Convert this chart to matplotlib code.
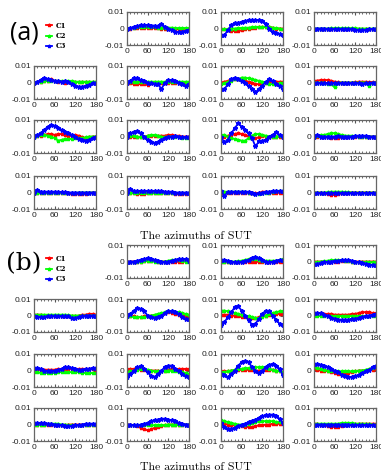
import matplotlib
matplotlib.use('Agg')
import matplotlib.pyplot as plt
from matplotlib.lines import Line2D
import numpy as np

# azimuths of SUT (deg)
azimuth = list(range(0, 181, 10))

# values in units of 1e-3, one row per subplot (row-major, top-left cell is the legend)
a_c1 = [
    [0,0,0.3,0.5,0.5,0.5,0.5,0.5,0.3,0.3,0,0,0,-0.3,-0.5,-0.5,-0.3,0,0],
    [0,-0.5,-1,-1.5,-1.5,-1.5,-1,-0.5,0,0.5,0.5,1,1,1,1,0.5,0,0,0],
    [0,0,0,0,0,0,0,0,0,0,0,0,0,0,0,0,0,0,0],
    [0,0.5,0.5,1,1,2,1,0.5,0.5,0,0.5,0.5,0.3,0.3,0.3,0.3,0.3,0.3,0.3],
    [0,-0.5,-1,-1,-1,-1,-1.5,-0.5,-0.3,0,0,0,0,0,0,0,0,0,0],
    [0,0.5,1,1.5,2,2,1.5,1,0.5,0,-1,-1,-0.5,0,0.5,0.5,0.5,0.5,0.5],
    [1,1.2,1.5,1.5,1.5,1,0.5,0.3,0,0,0,0,0.3,0.5,0.5,0.5,0.3,0.3,0.3],
    [0,0.3,0.5,1,1.5,1.5,1,1.5,1.5,1,0.5,0.5,1,0.5,-0.5,-1,-0.5,0,0],
    [0,0,-0.5,-0.5,-0.5,0,0.5,0.5,0.5,0.5,0.5,0.5,1,1,0.5,0.5,0,0,0],
    [0,0,0.5,1,1.5,2,1.5,1,0,-0.5,-1,-0.5,0.5,0,-0.5,-0.5,-0.5,0,0],
    [0,0,0,-0.5,-0.5,-1,-1,-1,-0.5,0,0,0,0,0,0,0,0,0,0],
    [0,0,0,0,0,0,0,0,0,0,-0.5,-1,-1,-1,-1,-1,-0.5,0,0],
    [0,-0.5,-0.5,-1,-1,-1,-0.5,-0.5,-0.5,-0.5,-0.5,-0.5,-0.5,-0.5,-1,-1,-1,-1,-0.5],
    [0,-0.5,-0.5,0,0,0,0,0,0,0,-0.5,-0.5,0.5,0.5,0,0,0,0,0],
    [0,0,0,-0.5,-1,-1.5,-1.5,-1,-0.5,0,0,0,0,0,0,0,0,0,0],
]
a_c2 = [
    [0,0.3,0.5,0.8,1,1,1,0.8,0.8,0.5,0.5,0.5,0.5,0.5,0.3,0.3,0.3,0.3,0.3],
    [-0.5,-0.5,-0.3,0,0,0.3,0.3,0.5,0.5,0.8,1,1,1,1,1,0.5,0.3,0,-0.5],
    [0,0,0,0,0,0.2,0.3,0.3,0.3,0.3,0.3,0.3,0.2,0,0,0,0,0,0],
    [0,0.3,0.5,1,1,1,1,1,1,1,1,1,0.5,0.5,0.5,0.5,0.5,0.5,0.5],
    [0,0.3,0.5,0.5,0.5,0.5,0.5,0.5,0.5,0.5,0.5,0.5,0.5,0.5,0.5,0.5,0.5,0.5,0.5],
    [-1,-0.5,0.5,1,2,2,3,3,2.5,2,1.5,1,0.5,0,-1,-1,-1,-0.5,0],
    [0,0,0,0,-1,-1,-3,0,0,0,0,0,0,0,0,0,-2,0,0],
    [0,0.5,1,1,0.5,0,-1,-2.5,-2,-1.5,-1.5,-1.5,-1,-1,-1,-0.5,0,0,0],
    [0,0.5,0.5,0,-0.5,-0.5,0.5,1,1,0.5,0,-0.5,0,0,0,-0.5,-1,-1,-1],
    [1,1,0,-1,-1.5,-2,-2.5,-2.5,-1,0.5,1.5,1.5,1,0.5,0,0,0,0.5,0],
    [0,0.5,1,1,1.5,2,2,1.5,1,0.5,0.5,0.5,0.3,0,0,0,0,0,0],
    [0,-0.3,-0.5,-0.3,-0.3,-0.3,-0.3,-0.3,-0.3,-0.3,-0.3,-0.3,-0.3,0,0,0,0,0,0],
    [-0.5,-0.5,-0.5,-0.5,-0.5,-0.5,-0.5,-0.5,-0.5,-0.5,-0.5,-0.5,-0.5,-0.5,-0.5,-0.5,-0.5,-0.5,-0.5],
    [0.5,0.5,0.5,0.5,0.5,0.5,0.5,0.5,0,-0.5,-1,-1,-0.5,-0.5,0,0.5,1,1,1],
    [0,0,0,0,0.3,0.5,0.5,0.5,0.5,0.3,0.3,0,0,0,0,0,0,0,0],
]
a_c3 = [
    [0,0.3,0.8,1.5,2,2,2,1.8,1.8,1.5,3,1,0,-1,-2,-2,-2,-1.5,-1],
    [-4,-4,-1,2,3.5,3.5,4,4.5,5,5,5,5,4.5,3,0,-2,-3,-3.5,-4],
    [0,0,0,0,-0.2,-0.3,-0.3,-0.3,-0.4,-0.5,-0.5,-0.6,-0.8,-1,-1,-0.8,-0.5,-0.3,0],
    [0,0.5,1.5,2.5,2,1.5,1,1,0.5,1,0.5,-1,-2,-2.5,-2.5,-2,-1.5,-0.5,0],
    [0,1,3,2.5,1.5,1,0,-0.5,-1,-1,-4,0,1.5,1.5,1,0,-1,-2,-1],
    [-4,-4,-1,2,3,2,1,0,-2,-4,-6,-4,-2,0.5,2,1,-1,-2,-4],
    [0,-0.3,-0.5,-0.5,-0.5,-0.5,-0.5,-0.5,-0.5,-0.5,-0.5,-0.5,-0.5,-0.5,-1,-0.5,-0.3,0,0],
    [0,1,2,4,6,7,6.5,5,4,3,2,1,0,-1.5,-2,-2.5,-2,-1,0],
    [0,2,2.5,3.5,2,0,-2,-3.5,-4,-3.5,-2,-1,0,0,0.5,0,-0.5,-0.5,0],
    [-0.5,-3.5,-2,2,5,8,6,4,2,-1,-6,-3,-2.5,-2,0,1,2.5,1,0],
    [0,1,0,0,0,0,0,0.5,0,0,0,0,0.5,0.5,0.5,0.5,0,0,0],
    [0,1.5,0.5,0.5,0.5,0.5,0.5,0.5,0.3,0.3,0,0,0,0,0,0,0,0,0],
    [0,2,1,1,1,1,1,1,1,1,1,0.5,0.5,0.5,0,0,0,0,0],
    [1,-2,0.5,0.5,0.5,0.5,0.5,0.5,0.5,0,-1,-0.5,0,0.5,0.5,1,1,1,1],
    [0,0,0,0,0,0,0,0,0,0,0,0,0,0,0,0,0,0,0],
]

b_c1 = [
    [0,0,0,0,0,0.5,0.5,0.5,0.3,0,0,0,0,0,0,0,0,0.5,0.5],
    [-0.5,-0.5,-0.5,-0.5,-0.5,-0.5,-0.5,0,0,0,0,0,0,-0.3,-0.3,-0.5,-0.5,-0.5,-0.5],
    [0,0,0,0,0,0,0,0,0.3,0.5,0.3,0,0,0,0,0,0,0,0],
    [0.5,0.5,0.5,0,0,0,0,0,0,0,-0.5,-0.5,-0.5,0,0.5,0.5,1,1,0.5],
    [0,-0.5,-0.5,-1,-1,-0.5,-0.5,0,0,0.5,1,1.5,2,1.5,1,0.5,0.5,0,0],
    [0.5,0.5,0.5,0,0,-0.5,-1,-1,-1.5,-1.5,-1.5,-1,-0.5,0,0.5,0.5,1,1,1],
    [1.5,1.5,1.5,1,1,1,0.5,0.5,0.5,0.5,0.5,1,1,1.5,2,2,2,1.5,1.5],
    [0.5,0.5,0.5,0.5,0.5,0.5,0.5,1,1,1,1,1,1,1,1,1,1,1,0.5],
    [1,1,1,1,0.5,0.5,0,0,0,0,-0.5,0,0.5,1,1,1,1,1,1],
    [-0.5,-0.5,-0.5,0,0,0.5,0.5,0.5,0.5,0.5,0,0,0,0.5,0.5,0.5,0,-0.5,-1],
    [1,0.5,0,0,-0.5,-1,-1.5,-2,-2,-2,-1.5,-1,-0.5,0,0,0,0.5,0.5,1],
    [0,0,0,-0.5,-0.5,-0.5,-0.5,-0.5,-0.5,-0.5,0,0,0,0,0,0,0,0,0],
    [0,0,-0.5,-1,-2,-3,-3.5,-3,-2,-1.5,-1,-0.5,0,0,0,0,0,0,0],
    [1,0.5,0,-0.5,-0.5,-1,-1,-1.5,-1.5,-1.5,-1,-0.5,-0.5,0,0,0.5,0.5,0.5,0.5],
    [0.5,0.5,0,-0.5,-1,-1.5,-1.5,-1.5,-1,-0.5,0,0,0.3,0.5,0.5,0.5,0.5,0.5,0.5],
]
b_c2 = [
    [-0.5,-0.5,-0.5,-0.3,0,0.5,0.5,0.5,0,0,0,0,0.5,1,1,1,0.5,0,0],
    [0,0,0,0,0,0.3,0.5,1,1.5,1.5,1.5,1,0.5,0.5,0.5,0.5,0.5,1,1.5],
    [-0.5,-0.3,0,0.3,0.5,0.8,1,1,0.8,0.5,0.3,0,-0.3,-0.5,-0.5,-0.5,-0.5,-0.5,-0.5],
    [0.5,0.5,0.5,0.5,0.5,0.5,0.5,0.5,0.5,0.5,0.3,0,0,0,0,0,0,0,0],
    [0,-0.5,-1,-1,-1,-1,-0.5,0,0.5,1,1.5,2,2.5,2.5,2,2,1.5,1,0.5],
    [3,3,2.5,2,1.5,1,0.5,0,-0.5,-1,-1.5,-1.5,-1,0,1,1.5,2,2.5,2.5],
    [-0.3,-0.3,-0.3,-0.3,-0.3,-0.3,-0.3,-0.3,-0.3,-0.3,-0.3,-0.3,-0.3,-0.3,-0.3,-0.5,-0.5,-0.5,-0.5],
    [-1,-1,-1.5,-1.5,-1.5,-1.5,-1.5,-1,-1,-1,-1,-1,-1,-1,-1.5,-1.5,-1.5,-1.5,-1.5],
    [-1,-0.5,0,0.5,1,1,0.5,0,-0.5,-0.5,-0.5,0,0,0,-0.5,-1,-1,-1.5,-2],
    [-1,-1,-0.5,0,0.5,1,1,1.5,1.5,1.5,2,2,2,1.5,1,0.5,0,-0.5,-1],
    [2,1.5,1,0.5,0,0,-0.5,-0.5,-0.5,-0.5,-0.5,-0.5,-0.5,0,0,0.5,1,1.5,2],
    [0,0,0,0,0.3,0.5,0.5,0.5,0,0,-0.3,-0.5,-0.5,-0.5,-0.5,-0.3,0,0,0],
    [0,-0.5,-0.5,-0.5,-0.5,-0.5,-0.5,-0.5,-0.5,-0.5,-0.5,-0.3,0,0,0,0,0,0,0],
    [2.5,2,1.5,1,0.5,0,0,0,0.5,1,1.5,2,2,2,2,2,1.5,1.5,1.5],
    [0.5,0.5,0.5,0.5,0.5,0.5,0.5,0.5,1,1,1,1,0.5,0.5,0.5,0.5,0.3,0,0],
]
b_c3 = [
    [0,0,0,0.5,1,1.5,2,1.5,1,0.5,0,-0.5,0,0.5,1,1.5,1.5,1.5,0.5],
    [1,1,0.5,0,-0.5,-0.5,0,0.5,1,2,2.5,2,1,0,-0.5,0,0.5,1,1],
    [-1.5,-1.5,-1,-0.5,-0.3,0,0.3,0.5,0.8,1,1,0.5,0,-0.5,-1,-1.5,-2,-2,-2],
    [-0.5,-1,-1,-1,-0.5,-0.5,0,-0.5,-0.5,-0.5,-0.5,-1.5,-1.5,-1,-0.5,0,0,0,0],
    [0,1,3,4.5,4,2.5,0,-1,-1.5,-1,0,1.5,2.5,2.5,2,1,-1,-2,-2],
    [-6,-4,-1,2,5,5.5,3,0,-3,-5.5,-5,-2,1,3,2.5,0,-2.5,-5,-6],
    [1.5,1.5,1.5,0.5,-0.5,-1.5,-2,-2.5,-2.5,-2.5,-2.5,-2,-2,-1.5,-1,-0.5,0,0.5,1],
    [1.5,1.5,1,0,-0.5,-0.5,0,0.5,1,2,2,1.5,1,0.5,0.5,1,1,1.5,1.5],
    [-4,-2,0,2,2.5,1,-1,-3.5,-4,-2,0,2,3,3,1,0,-2,-3.5,-4],
    [-2,-3,-4,-2,0,3,5,6,5,2,0,-1.5,0,2,3.5,4,3,1,-3],
    [4,4,3.5,3,2,1,0,-1,-2.5,-3.5,-4,-4,-3.5,-2.5,-1.5,-0.5,0.5,2,3],
    [1,1,1,1,0.5,0.5,0,0,-0.5,-1,-1,-1,-0.5,-0.5,0,0.5,0.5,0.5,0.5],
    [0,0,-0.5,-0.5,0,0.5,1,2,2.5,3,3.5,3.5,3,2.5,2,1,0.5,0,0],
    [1,-1.5,-2.5,-2.5,-2,-1,0,0.5,1.5,2,3,4,5,5.5,6,6,5,3.5,1],
    [0,0,0,0,0,0,0,0,0,0,0,-0.3,-0.3,-0.5,-0.5,-0.5,-0.5,-0.5,-0.5],
]

series_labels = ['C1', 'C2', 'C3']
series_colors = ['#ff0000', '#00ff00', '#0000ff']

W, H = 381, 474
fig = plt.figure(figsize=(W / 100, H / 100), dpi=100)

col_left = [34, 127, 221, 314]
ax_w, ax_h = 62, 33
rows_a = [12, 66, 120, 176]
rows_b = [245, 299, 354, 408]


def draw_panel(rows, c1, c2, c3):
    k = 0
    for r in range(4):
        for c in range(4):
            if r == 0 and c == 0:
                continue
            ax = fig.add_axes([col_left[c] / W, 1 - (rows[r] + ax_h) / H, ax_w / W, ax_h / H])
            for vals, col in zip([c1[k], c2[k], c3[k]], series_colors):
                ms = 3.2 if col == '#0000ff' else 2.5
                ax.plot(azimuth, np.array(vals) * 1e-3, '-*', color=col, lw=1.3, ms=ms)
            ax.set_xlim(0, 180)
            ax.set_ylim(-0.01, 0.01)
            ax.set_xticks([0, 60, 120, 180])
            ax.set_xticks(range(0, 181, 10), minor=True)
            ax.set_yticks([-0.01, 0, 0.01])
            ax.set_yticklabels(['-0.01', '0', '0.01'])
            ax.tick_params(which='both', direction='in', top=True, right=True,
                           labelsize=6, colors='#222222', pad=2)
            ax.tick_params(which='major', length=2, color='#555555')
            ax.tick_params(which='minor', length=1.5, color='#555555')
            for lab in ax.get_xticklabels() + ax.get_yticklabels():
                lab.set_family('Liberation Sans')
            for s in ax.spines.values():
                s.set_color('#666666')
                s.set_linewidth(0.9)
            k += 1


draw_panel(rows_a, a_c1, a_c2, a_c3)
draw_panel(rows_b, b_c1, b_c2, b_c3)

handles = [Line2D([], [], color=col, marker='*', lw=1.3, ms=2.5) for col in series_colors]
for y in [36, 269]:
    fig.legend(handles, series_labels, loc='center left', bbox_to_anchor=(40 / W, 1 - y / H),
               frameon=False, handlelength=0.8, handletextpad=0.5, labelspacing=0.3,
               prop={'family': 'DejaVu Serif', 'weight': 'bold', 'size': 5})

fig.text(24 / W, 1 - 33 / H, '(a)', fontsize=18, ha='center', va='center', family='Open Sans')
fig.text(24 / W, 1 - 264 / H, '(b)', fontsize=18, ha='center', va='center', family='DejaVu Serif')
fig.text(196 / W, 1 - 236 / H, 'The azimuths of SUT', fontsize=8.5, ha='center', va='center', family='cmr10')
fig.text(196 / W, 1 - 467 / H, 'The azimuths of SUT', fontsize=8.5, ha='center', va='center', family='cmr10')

fig.savefig('out.png', dpi=100)
